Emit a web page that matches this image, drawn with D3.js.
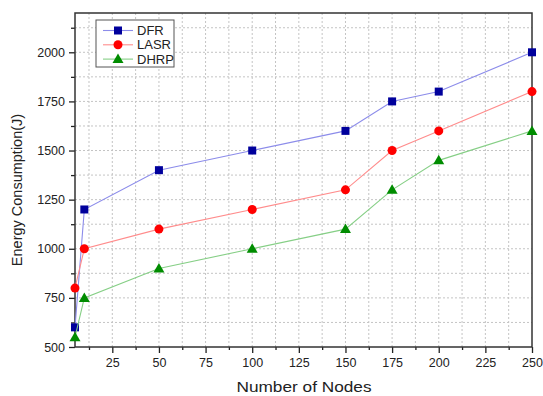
<!DOCTYPE html>
<html>
<head>
<meta charset="utf-8">
<script src="https://cdn.jsdelivr.net/npm/d3@7"></script>
<style>
  body { margin: 0; background: #fff; }
  svg { display: block; font-family: "Liberation Sans", Arial, sans-serif; }
</style>
</head>
<body>
<svg id="chart" width="543" height="396"></svg>
<script>
// data
const nodes = [5, 10, 50, 100, 150, 175, 200, 250];
const dfr = [600, 1200, 1400, 1500, 1600, 1750, 1800, 2000];
const lasr = [800, 1000, 1100, 1200, 1300, 1500, 1600, 1800];
const dhrp = [550, 750, 900, 1000, 1100, 1300, 1450, 1600];
const xTicks = [25, 50, 75, 100, 125, 150, 175, 200, 225, 250];
const yTicks = [500, 750, 1000, 1250, 1500, 1750, 2000];

const series = [
  { name: "DFR", values: dfr, marker: "square", fill: "#00009c", stroke: "#8c8cea" },
  { name: "LASR", values: lasr, marker: "circle", fill: "#ff0000", stroke: "#ff8c8c" },
  { name: "DHRP", values: dhrp, marker: "triangle", fill: "#008c00", stroke: "#86cf86" }
];

const svg = d3.select("#chart");
const margin = { left: 75, right: 11, top: 13, bottom: 49 };
const width = 543 - margin.left - margin.right;
const height = 396 - margin.top - margin.bottom;

const x = d3.scaleLinear().domain([5, 250]).range([0, width]);
const y = d3.scaleLinear().domain([500, 2200]).range([height, 0]);

const g = svg.append("g").attr("transform", `translate(${margin.left},${margin.top})`);

// grid at every major and minor step
const xGrid = d3.range(12.5, 250, 12.5);
const yGrid = d3.range(625, 2200, 125);
g.append("g").selectAll("line").data(xGrid).join("line")
  .attr("x1", d => x(d)).attr("x2", d => x(d))
  .attr("y1", 0).attr("y2", height)
  .attr("stroke", "#c4c4c4").attr("stroke-dasharray", "2,2");
g.append("g").selectAll("line").data(yGrid).join("line")
  .attr("y1", d => y(d)).attr("y2", d => y(d))
  .attr("x1", 0).attr("x2", width)
  .attr("stroke", "#c4c4c4").attr("stroke-dasharray", "2,2");

// axes: major ticks with labels, minor ticks without
g.append("g").attr("transform", `translate(0,${height})`)
  .call(d3.axisBottom(x).tickValues(xTicks).tickSize(6).tickPadding(5).tickFormat(d3.format("d")));
g.append("g").attr("transform", `translate(0,${height})`)
  .call(d3.axisBottom(x).tickValues(d3.range(12.5, 250, 25)).tickSize(3).tickFormat(""));
g.append("g")
  .call(d3.axisLeft(y).tickValues(yTicks).tickSize(6).tickPadding(4).tickFormat(d3.format("d")));
g.append("g")
  .call(d3.axisLeft(y).tickValues(d3.range(625, 2200, 250)).tickSize(4).tickFormat(""));

g.selectAll(".domain").remove();
g.selectAll(".tick line").attr("stroke", "#222").attr("stroke-width", 1.3);
g.selectAll(".tick text").attr("font-size", 12.5).attr("fill", "#222")
  .attr("font-family", "'Liberation Sans', Arial, sans-serif");

// frame
g.append("rect").attr("width", width).attr("height", height)
  .attr("fill", "none").attr("stroke", "#333").attr("stroke-width", 1.5);

// lines and markers
const line = d3.line().x((d, i) => x(nodes[i])).y(d => y(d));

function drawMarker(sel, type, fill) {
  if (type === "square") {
    sel.append("rect").attr("x", -4).attr("y", -4).attr("width", 8).attr("height", 8).attr("fill", fill);
  } else if (type === "circle") {
    sel.append("circle").attr("r", 4.5).attr("fill", fill);
  } else {
    sel.append("path").attr("d", "M0,-5.5L5.5,4L-5.5,4Z").attr("fill", fill);
  }
}

series.forEach(s => {
  g.append("path").datum(s.values)
    .attr("d", line).attr("fill", "none")
    .attr("stroke", s.stroke).attr("stroke-width", 1.1);
  g.append("g").selectAll("g").data(s.values).join("g")
    .attr("transform", (d, i) => `translate(${x(nodes[i])},${y(d)})`)
    .each(function() { drawMarker(d3.select(this), s.marker, s.fill); });
});

// legend
const legend = svg.append("g").attr("transform", "translate(96,20)");
legend.append("rect").attr("width", 78).attr("height", 47)
  .attr("fill", "#fff").attr("stroke", "#555").attr("stroke-width", 1);
series.forEach((s, i) => {
  const row = legend.append("g").attr("transform", `translate(0,${10.5 + i * 14.3})`);
  row.append("line").attr("x1", 7).attr("x2", 37).attr("stroke", s.stroke).attr("stroke-width", 1.1);
  const m = row.append("g").attr("transform", "translate(22,0)");
  drawMarker(m, s.marker, s.fill);
  row.append("text").attr("x", 41).attr("y", 4.5).attr("font-size", 13).attr("fill", "#222").text(s.name);
});

// axis titles
svg.append("text").attr("x", 304).attr("y", 392).attr("text-anchor", "middle")
  .attr("font-size", 15).attr("fill", "#222")
  .attr("textLength", 135).attr("lengthAdjust", "spacingAndGlyphs")
  .text("Number of Nodes");
svg.append("text").attr("transform", "translate(22,190) rotate(-90)").attr("text-anchor", "middle")
  .attr("font-size", 14.5).attr("fill", "#222").text("Energy Consumption(J)");
</script>
</body>
</html>
